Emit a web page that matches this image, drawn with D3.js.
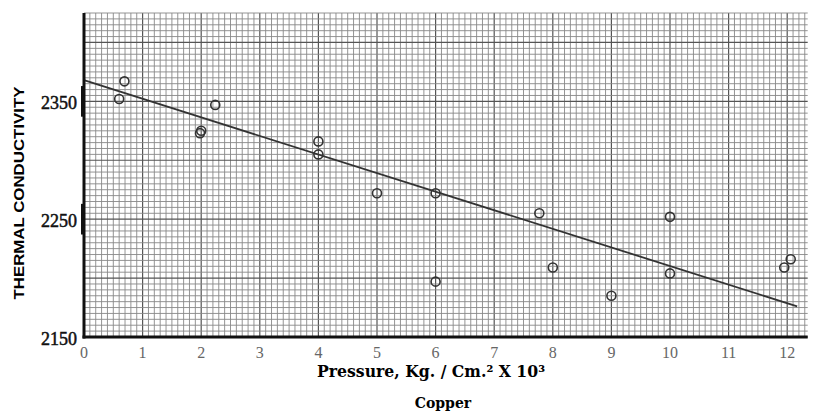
<!DOCTYPE html>
<html>
<head>
<meta charset="utf-8">
<script src="https://cdn.jsdelivr.net/npm/d3@7"></script>
<style>
  body { margin: 0; background: #fff; }
  .minor { stroke: #888; stroke-width: 0.9; }
  .major { stroke: #555; stroke-width: 1.2; }
  .axisline { stroke: #111; stroke-width: 3; }
  .fit { stroke: #333; stroke-width: 1.8; fill: none; }
  .dot { stroke: #333; stroke-width: 1.6; fill: none; }
  .xlabel { font-family: "Liberation Serif", serif; font-size: 16px; fill: #666; }
  .ylabel { font-family: "Liberation Serif", serif; font-size: 18px; fill: #111; stroke: #111; stroke-width: 0.5; }
</style>
</head>
<body>
<script>
// copper, thermal conductivity against pressure

// measured points
var pressure = [0.60, 0.69, 1.98, 2.00, 2.24, 4.00, 4.00, 5.00, 6.00, 6.00, 7.77, 8.00, 9.00, 10.00, 10.00, 11.95, 12.06]
var conductivity = [2352, 2367, 2323, 2325, 2347, 2316, 2305, 2272, 2272, 2197, 2255, 2209, 2185, 2252, 2204, 2209, 2216]

// fitted straight line, two ends
var fitPressure = [0, 12.17]
var fitConductivity = [2368, 2176]

// tick labels
var xTicks = [0, 1, 2, 3, 4, 5, 6, 7, 8, 9, 10, 11, 12]
var yTicks = [2150, 2250, 2350]

// define width and height
var w = 813
var h = 414
var margins = {left: 84, right: 5, upper: 13, lower: 77}

var svg = d3.select("body")
            .append("svg")
            .attr("width", w)
            .attr("height", h)

window.onload = function() {
  createScales()
  drawGrid()
  drawFit()
  drawPoints()
  drawScales()
}

function createScales() {
  window.xScale = d3.scaleLinear()
                    .domain([0, 12.35])
                    .range([margins.left, margins.left + 12.35 * 58.6]);
  window.yScale = d3.scaleLinear()
                    .domain([2150, 2425])
                    .range([h - margins.lower, margins.upper]);
}

function drawGrid() {
  /* graph paper: a line every 0.1 and every 5, heavier every 1 and every 50 */
  var x0 = xScale.range()[0], x1 = xScale.range()[1]
  var y0 = yScale.range()[0], y1 = yScale.range()[1]

  var vx = d3.range(0, 124).map(function(i) { return i / 10 })
  var hy = d3.range(0, 56).map(function(i) { return 2150 + i * 5 })

  svg.selectAll(".vgrid")
     .data(vx)
     .enter()
     .append("line")
     .attr("class", function(d, i) { return i % 10 === 0 ? "major" : "minor" })
     .attr("x1", function(d) { return xScale(d) })
     .attr("x2", function(d) { return xScale(d) })
     .attr("y1", y0)
     .attr("y2", y1);

  svg.selectAll(".hgrid")
     .data(hy)
     .enter()
     .append("line")
     .attr("class", function(d, i) { return i % 10 === 0 ? "major" : "minor" })
     .attr("x1", x0)
     .attr("x2", x1)
     .attr("y1", function(d) { return yScale(d) })
     .attr("y2", function(d) { return yScale(d) });
}

function drawFit() {
  var pts = fitPressure.map(function(p, i) { return [p, fitConductivity[i]] })
  svg.append("path")
     .datum(pts)
     .attr("class", "fit")
     .attr("d", d3.line()
                  .x(function(d) { return xScale(d[0]) })
                  .y(function(d) { return yScale(d[1]) }));
}

function drawPoints() {
  svg.selectAll(".dot")
     .data(pressure)
     .enter()
     .append("circle")
     .attr("class", "dot")
     .attr("cx", function(d) { return xScale(d) })
     .attr("cy", function(d, i) { return yScale(conductivity[i]) })
     .attr("r", 4.5);
}

function drawScales() {
  /* the heavy axes, tick labels and titles */
  var x0 = xScale.range()[0], x1 = xScale.range()[1]
  var y0 = yScale.range()[0], y1 = yScale.range()[1]

  svg.append("line")
     .attr("class", "axisline")
     .attr("x1", x0).attr("x2", x0)
     .attr("y1", y1).attr("y2", y0 + 1.5);

  svg.append("line")
     .attr("class", "axisline")
     .attr("x1", x0 - 1.5).attr("x2", x1)
     .attr("y1", y0).attr("y2", y0);

  // thick marks on the axis at the labelled values
  svg.selectAll(".ymark")
     .data(yTicks.slice(1))
     .enter()
     .append("rect")
     .attr("x", x0 - 3)
     .attr("y", function(d) { return yScale(d + 13) })
     .attr("width", 4)
     .attr("height", function(d) { return yScale(d - 13) - yScale(d + 13) })
     .attr("fill", "#111");

  svg.selectAll(".xlabel")
     .data(xTicks)
     .enter()
     .append("text")
     .attr("class", "xlabel")
     .attr("x", function(d) { return xScale(d) })
     .attr("y", y0 + 21)
     .attr("text-anchor", "middle")
     .text(function(d) { return d });

  svg.selectAll(".ylabel")
     .data(yTicks)
     .enter()
     .append("text")
     .attr("class", "ylabel")
     .attr("x", x0 - 7)
     .attr("y", function(d) { return yScale(d) + 8 })
     .attr("text-anchor", "end")
     .text(function(d) { return d });

  // y axis title
  svg.append("text")
     .attr("transform", "translate(24,193) rotate(-90)")
     .attr("text-anchor", "middle")
     .attr("textLength", 213)
     .attr("lengthAdjust", "spacingAndGlyphs")
     .style("font-family", "Liberation Sans, sans-serif")
     .style("font-weight", "bold")
     .style("font-size", "15px")
     .text("THERMAL  CONDUCTIVITY");

  // x axis title
  svg.append("text")
     .attr("x", 431)
     .attr("y", 377)
     .attr("text-anchor", "middle")
     .attr("textLength", 228)
     .attr("lengthAdjust", "spacingAndGlyphs")
     .style("font-family", "DejaVu Serif, serif")
     .style("font-weight", "bold")
     .style("font-size", "16px")
     .text("Pressure, Kg. / Cm.² X 10³");

  svg.append("text")
     .attr("x", 443)
     .attr("y", 408)
     .attr("text-anchor", "middle")
     .style("font-family", "DejaVu Serif, serif")
     .style("font-weight", "bold")
     .style("font-size", "14px")
     .text("Copper");
}
</script>
</body>
</html>
